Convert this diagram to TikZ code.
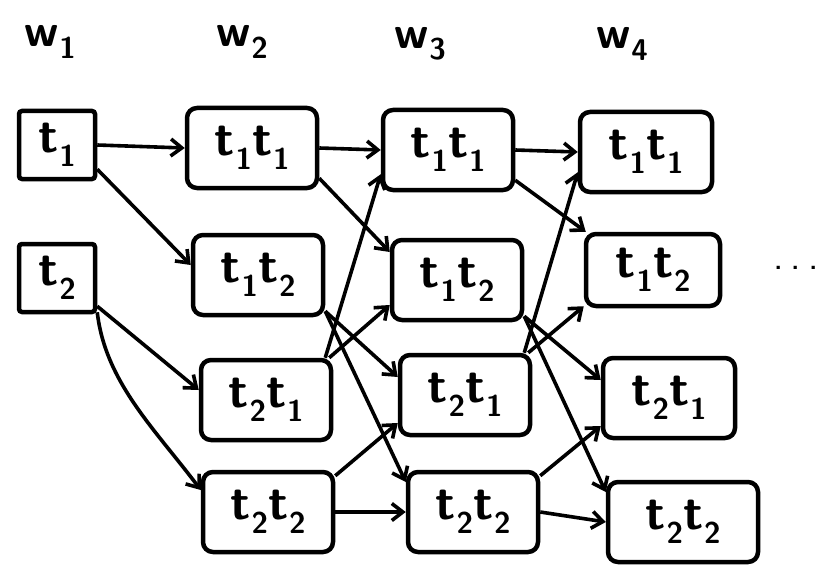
\documentclass[tikz,border=0pt]{standalone}
\usetikzlibrary{arrows.meta}
\newcommand\tsb[1]{t\kern0.02em\raisebox{-0.28em}{\fontsize{30}{30}\selectfont #1}}
\newcommand\wsb[1]{w\kern0.02em\raisebox{-0.25em}{\fontsize{30}{30}\selectfont #1}}
\begin{document}
\begin{tikzpicture}[x=1pt,y=-1pt,
  box/.style={draw, line width=4.5pt, rounded corners=10pt, minimum width=130pt, minimum height=80pt, inner sep=0pt, font=\sffamily\bfseries\fontsize{50}{50}\selectfont},
  sbox/.style={box, minimum width=76pt, minimum height=68pt, rounded corners=3pt},
  arr/.style={line width=3.6pt, -{Straight Barb[length=11pt,width=17pt]}},
  hdr/.style={font=\sffamily\bfseries\fontsize{46}{46}\selectfont}]
\useasboundingbox (0,0) rectangle (830,567);
% headers
\node[hdr] (h1) at (50,42) {\wsb{1}};
\node[hdr] (h2) at (242,42) {\wsb{2}};
\node[hdr] (h3) at (420,44) {\wsb{3}};
\node[hdr] (h4) at (622,44) {\wsb{4}};
% column 1
\node[sbox] (a1) at (57,145) {\tsb{1}};
\node[sbox] (a2) at (57,278) {\tsb{2}};
% column 2
\node[box] (b1) at (252,148) {\tsb{1}\tsb{1}};
\node[box] (b2) at (258,275) {\tsb{1}\tsb{2}};
\node[box] (b3) at (266,400) {\tsb{2}\tsb{1}};
\node[box] (b4) at (268,512) {\tsb{2}\tsb{2}};
% column 3
\node[box] (c1) at (448,150) {\tsb{1}\tsb{1}};
\node[box] (c2) at (457,280) {\tsb{1}\tsb{2}};
\node[box] (c3) at (465,395) {\tsb{2}\tsb{1}};
\node[box] (c4) at (473,512) {\tsb{2}\tsb{2}};
% column 4
\node[box, minimum width=132pt] (d1) at (646,152) {\tsb{1}\tsb{1}};
\node[box, minimum width=134pt, minimum height=72pt] (d2) at (653,270) {\tsb{1}\tsb{2}};
\node[box, minimum width=132pt] (d3) at (669,398) {\tsb{2}\tsb{1}};
\node[box, minimum width=150pt] (d4) at (683,522) {\tsb{2}\tsb{2}};
\node[font=\sffamily\fontsize{40}{40}\selectfont] (dots) at (796,268) {.\kern0.18em.\kern0.18em.};
% w1 -> w2
\draw[arr] (a1.east) -- (b1.west);
\draw[arr] ([yshift=12pt]a1.south east) -- ([yshift=10pt]b2.west);
\draw[arr] ([yshift=8pt]a2.south east) -- ([yshift=10pt]b3.west);
\draw[arr] ([yshift=2pt]a2.south east) .. controls +(8,70) and +(-45,-60) .. ([yshift=22pt]b4.west);
% w2 -> w3
\draw[arr] (b1.east) -- (c1.west);
\draw[arr] ([yshift=12pt]b1.south east) -- ([yshift=28pt]c2.west);
\draw[arr] ([yshift=6pt]b2.south east) -- ([yshift=18pt]c3.west);
\draw[arr] ([yshift=6pt]b2.south east) -- ([yshift=30pt]c4.west);
\draw[arr] ([xshift=-8pt]b3.north east) -- ([yshift=18pt]c1.south west);
\draw[arr] ([xshift=-4pt]b3.north east) -- ([yshift=-25pt]c2.west);
\draw[arr] ([yshift=-6pt]b4.north east) -- ([yshift=-28pt]c3.west);
\draw[arr] (b4.east) -- (c4.west);
% w3 -> w4
\draw[arr] (c1.east) -- (d1.west);
\draw[arr] ([yshift=12pt]c1.south east) -- ([xshift=2pt]d2.north west);
\draw[arr] ([yshift=6pt]c2.south east) -- ([yshift=18pt]d3.west);
\draw[arr] ([yshift=6pt]c2.south east) -- ([yshift=30pt]d4.west);
\draw[arr] ([xshift=-8pt]c3.north east) -- ([yshift=22pt]d1.south west);
\draw[arr] ([xshift=-4pt]c3.north east) -- ([yshift=2pt]d2.south west);
\draw[arr] ([yshift=-6pt]c4.north east) -- ([yshift=-28pt]d3.west);
\draw[arr] (c4.east) -- (d4.west);
\end{tikzpicture}
\end{document}
